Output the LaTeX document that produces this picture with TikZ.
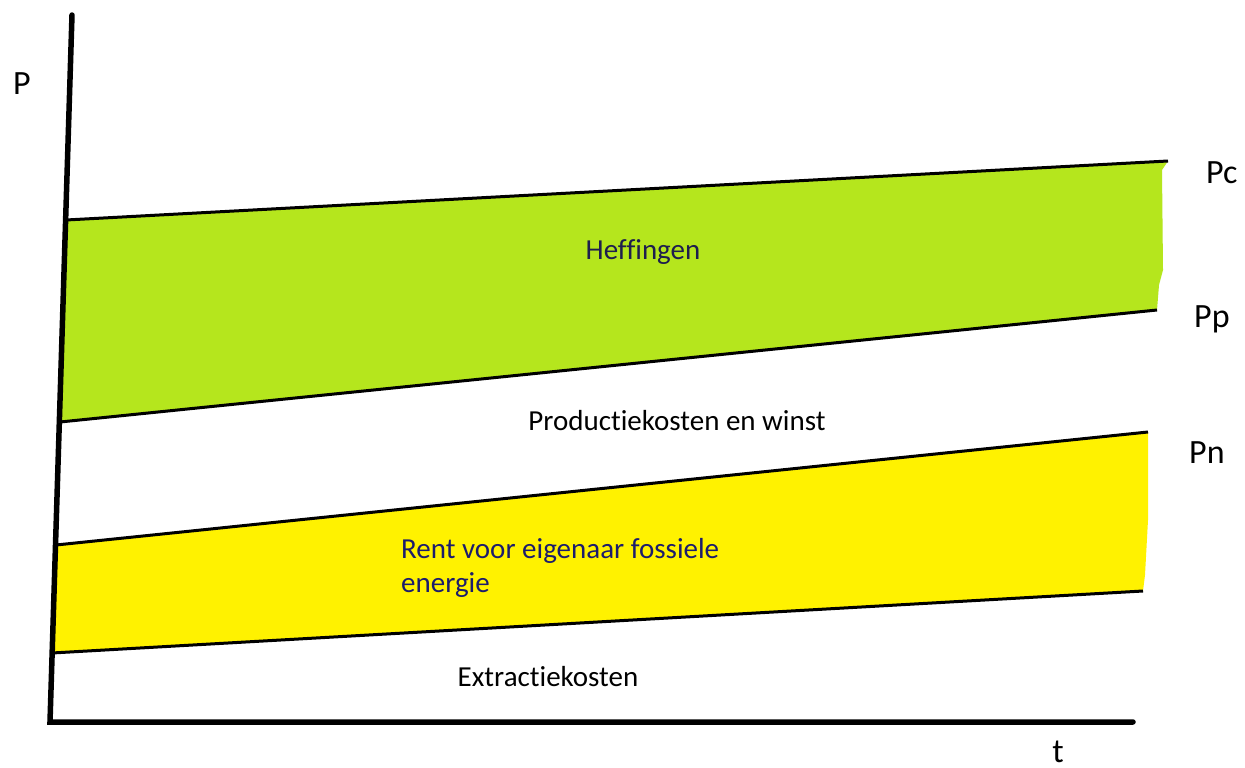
\documentclass[tikz,border=0pt]{standalone}
\usepackage{fontspec}
\setmainfont{Carlito}[Ligatures=NoCommon]
\definecolor{heffgreen}{HTML}{B5E61D}
\definecolor{rentyellow}{HTML}{FFF200}
\definecolor{heffnavy}{HTML}{1E1E4E}
\definecolor{rentblue}{HTML}{1C1C6C}
\tikzset{
  band/.style={line width=3pt},
  bigtxt/.style={inner sep=0pt, anchor=base, font=\fontsize{29}{34}\selectfont},
  axtxt/.style={inner sep=0pt, anchor=base west, font=\fontsize{34}{40}\selectfont}
}
\begin{document}
\begin{tikzpicture}[x=1pt,y=-1pt]
  \useasboundingbox[fill=white] (0,0) rectangle (1245,768);
  % band corners, left to right
  \foreach \x/\y [count=\ind] in {66/220,1168/161,1157/310,60/422,56/545,1148/432,1143/591,52/653}{%
    \coordinate (Band-\ind) at (\x,\y);
  }
  \fill[heffgreen] (Band-1) -- (Band-2) -- (1162,170) -- (1163,270) -- (1159,285) -- (Band-3) -- (Band-4) -- cycle;
  \fill[rentyellow] (Band-5) -- (Band-6) -- (1148,520) -- (1145,575) -- (Band-7) -- (Band-8) -- cycle;
  \draw[band] (Band-1) -- (Band-2);
  \draw[band] (Band-4) -- (Band-3);
  \draw[band] (Band-5) -- (Band-6);
  \draw[band] (Band-8) -- (Band-7);
  %% axes
  \coordinate (Top) at (72,15);
  \coordinate (Origin) at (50,722);
  \coordinate (Right) at (1133,722);
  \draw[line width=5.5pt, line cap=round] (Top) -- (Origin) -- (Right);
  %% labels
  \node[axtxt, anchor=base] (P) at (22,94) {P};
  \node[axtxt, anchor=base] (t) at (1058,762) {t};
  \node[axtxt] (Pc) at (1206,183) {Pc};
  \node[axtxt] (Pp) at (1194,327) {Pp};
  \node[axtxt] (Pn) at (1189,463) {Pn};
  \node[bigtxt, text=heffnavy] (heff) at (643,259) {Heffingen};
  \node[bigtxt] (prod) at (677,430) {Productiekosten en winst};
  \node[bigtxt, anchor=base west, text=rentblue] (rent) at (401,558) {Rent voor eigenaar fossiele};
  \node[bigtxt, anchor=base west, text=rentblue] (energie) at (401,592) {energie};
  \node[bigtxt] (extr) at (548,686) {Extractiekosten};
\end{tikzpicture}
\end{document}
